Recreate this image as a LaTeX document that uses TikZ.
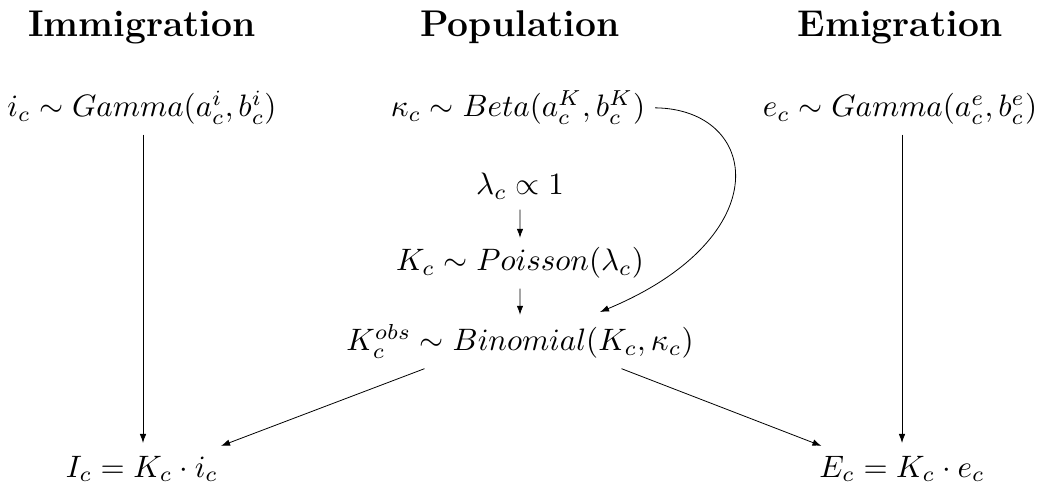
\documentclass[tikz,border=0pt]{standalone}
\usetikzlibrary{arrows.meta}
\begin{document}
\begin{tikzpicture}[x=1pt,y=1pt,
  ttl/.style={font=\large\bfseries, inner sep=0pt, anchor=base, scale=3.1, transform shape},
  eq/.style={inner sep=3pt, anchor=base, scale=3.1, transform shape},
  arr/.style={-{Latex[length=9pt,width=6.5pt]}, line width=0.8pt}]
\useasboundingbox (0,0) rectangle (1038,487);
\node[ttl] (timm) at (142,450) {Immigration};
\node[ttl] (tpop) at (520,450) {Population};
\node[ttl] (temi) at (900,450) {Emigration};
\node[eq] (ic) at (142,370) {$i_c \sim Gamma(a_c^i, b_c^i)$};
\node[eq] (kap) at (518,370) {$\kappa_c \sim Beta(a_c^K, b_c^K)$};
\node[eq] (ec) at (900,370) {$e_c \sim Gamma(a_c^e, b_c^e)$};
\node[eq] (lam) at (520,292) {$\lambda_c \propto 1$};
\node[eq] (K) at (520,216) {$K_c \sim Poisson(\lambda_c)$};
\node[eq] (Kobs) at (520,136) {$K_c^{obs} \sim Binomial(K_c, \kappa_c)$};
\node[eq] (Ic) at (142,10) {$I_c = K_c \cdot i_c$};
\node[eq] (Ec) at (902,10) {$E_c = K_c \cdot e_c$};
\draw[arr] (ic.south -| 143,0) -- (143,44);
\draw[arr] (ec.south -| 902,0) -- (902,44);
\draw[arr] (lam) -- (K);
\draw[arr] (K) -- (Kobs);
\draw[arr] (Kobs.south west) ++(88,0) coordinate (a1) (a1) -- ([xshift=-7pt]Ic.north east);
\draw[arr] (Kobs.south east) ++(-82,0) coordinate (a2) (a2) -- ([xshift=12pt]Ec.north west);
\draw[arr] (kap.east) .. controls (760,378) and (780,250) .. (600,175);
\end{tikzpicture}
\end{document}
